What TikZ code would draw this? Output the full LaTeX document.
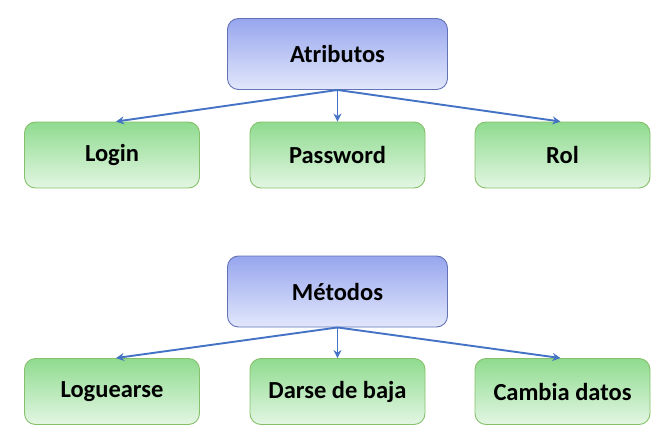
\documentclass[tikz,border=0pt]{standalone}
\usepackage{fontspec}
\setmainfont{Carlito}
\usetikzlibrary{arrows.meta}
\definecolor{bluetop}{HTML}{97A6EE}
\definecolor{bluebot}{HTML}{E2E7FB}
\definecolor{blueedge}{HTML}{6373B5}
\definecolor{greentop}{HTML}{8FDB8F}
\definecolor{greenbot}{HTML}{E3F6E3}
\definecolor{greenedge}{HTML}{86C06A}
\definecolor{arrowc}{HTML}{4472C4}
\tikzset{
  parentbox/.style={draw=blueedge, line width=0.9pt, rounded corners=11pt,
    top color=bluetop, bottom color=bluebot, minimum width=220pt, minimum height=71pt,
    inner sep=0pt, font=\fontsize{24.5}{28}\selectfont\bfseries, text=black},
  childbox/.style={draw=greenedge, line width=0.9pt, rounded corners=11pt,
    top color=greentop, bottom color=greenbot, minimum width=175pt, minimum height=66pt,
    inner sep=0pt, font=\fontsize{24.5}{28}\selectfont\bfseries, text=black},
  conn/.style={draw=arrowc, line width=1.9pt, -{Stealth[length=8pt,width=8pt]}}
}
\begin{document}
\begin{tikzpicture}[x=1pt,y=-1pt]
\useasboundingbox (0,0) rectangle (667,444);
\node[parentbox] (atr) at (337.5,54) {Atributos};
\node[childbox] (login) at (112,155) {Login};
\node[childbox] (pass) at (337.5,155) {Password};
\node[childbox] (rol) at (562.5,155) {Rol};
\node[parentbox] (met) at (337.5,291.5) {Métodos};
\node[childbox] (logu) at (112,391.5) {Loguearse};
\node[childbox] (darse) at (337.5,391.5) {Darse de baja};
\node[childbox] (camb) at (562.5,391.5) {Cambia datos};
\draw[conn] (atr.south) -- ([xshift=4pt]login.north);
\draw[conn] (atr.south) -- (pass.north);
\draw[conn] (atr.south) -- ([xshift=-2pt]rol.north);
\draw[conn] (met.south) -- ([xshift=4pt]logu.north);
\draw[conn] (met.south) -- (darse.north);
\draw[conn] (met.south) -- ([xshift=-2pt]camb.north);
\end{tikzpicture}
\end{document}
